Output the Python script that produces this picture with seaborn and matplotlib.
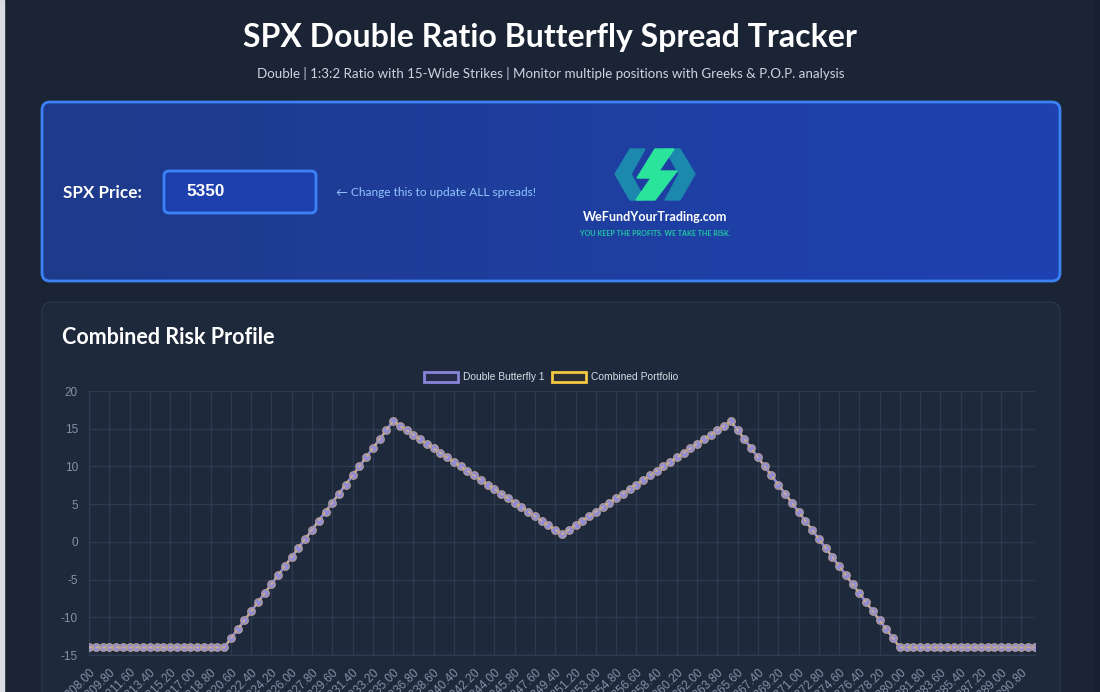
import numpy as np
import pandas as pd
import seaborn as sns
import matplotlib.pyplot as plt
from matplotlib.patches import FancyBboxPatch, Polygon, Rectangle
from matplotlib.colors import LinearSegmentedColormap

# SPX price grid (x categories), 0.6 apart
prices = [
    5308.0, 5308.6, 5309.2, 5309.8, 5310.4, 5311.0, 5311.6, 5312.2, 5312.8, 5313.4,
    5314.0, 5314.6, 5315.2, 5315.8, 5316.4, 5317.0, 5317.6, 5318.2, 5318.8, 5319.4,
    5320.0, 5320.6, 5321.2, 5321.8, 5322.4, 5323.0, 5323.6, 5324.2, 5324.8, 5325.4,
    5326.0, 5326.6, 5327.2, 5327.8, 5328.4, 5329.0, 5329.6, 5330.2, 5330.8, 5331.4,
    5332.0, 5332.6, 5333.2, 5333.8, 5334.4, 5335.0, 5335.6, 5336.2, 5336.8, 5337.4,
    5338.0, 5338.6, 5339.2, 5339.8, 5340.4, 5341.0, 5341.6, 5342.2, 5342.8, 5343.4,
    5344.0, 5344.6, 5345.2, 5345.8, 5346.4, 5347.0, 5347.6, 5348.2, 5348.8, 5349.4,
    5350.0, 5350.6, 5351.2, 5351.8, 5352.4, 5353.0, 5353.6, 5354.2, 5354.8, 5355.4,
    5356.0, 5356.6, 5357.2, 5357.8, 5358.4, 5359.0, 5359.6, 5360.2, 5360.8, 5361.4,
    5362.0, 5362.6, 5363.2, 5363.8, 5364.4, 5365.0, 5365.6, 5366.2, 5366.8, 5367.4,
    5368.0, 5368.6, 5369.2, 5369.8, 5370.4, 5371.0, 5371.6, 5372.2, 5372.8, 5373.4,
    5374.0, 5374.6, 5375.2, 5375.8, 5376.4, 5377.0, 5377.6, 5378.2, 5378.8, 5379.4,
    5380.0, 5380.6, 5381.2, 5381.8, 5382.4, 5383.0, 5383.6, 5384.2, 5384.8, 5385.4,
    5386.0, 5386.6, 5387.2, 5387.8, 5388.4, 5389.0, 5389.6, 5390.2, 5390.8, 5391.4,
    5392.0,
]

# P/L of the position at each price
double_butterfly_1 = [
    -14.0, -14.0, -14.0, -14.0, -14.0, -14.0, -14.0, -14.0, -14.0, -14.0,
    -14.0, -14.0, -14.0, -14.0, -14.0, -14.0, -14.0, -14.0, -14.0, -14.0,
    -14.0, -12.8, -11.6, -10.4, -9.2, -8.0, -6.8, -5.6, -4.4, -3.2,
    -2.0, -0.8, 0.4, 1.6, 2.8, 4.0, 5.2, 6.4, 7.6, 8.8,
    10.0, 11.2, 12.4, 13.6, 14.8, 16.0, 15.4, 14.8, 14.2, 13.6,
    13.0, 12.4, 11.8, 11.2, 10.6, 10.0, 9.4, 8.8, 8.2, 7.6,
    7.0, 6.4, 5.8, 5.2, 4.6, 4.0, 3.4, 2.8, 2.2, 1.6,
    1.0, 1.6, 2.2, 2.8, 3.4, 4.0, 4.6, 5.2, 5.8, 6.4,
    7.0, 7.6, 8.2, 8.8, 9.4, 10.0, 10.6, 11.2, 11.8, 12.4,
    13.0, 13.6, 14.2, 14.8, 15.4, 16.0, 14.8, 13.6, 12.4, 11.2,
    10.0, 8.8, 7.6, 6.4, 5.2, 4.0, 2.8, 1.6, 0.4, -0.8,
    -2.0, -3.2, -4.4, -5.6, -6.8, -8.0, -9.2, -10.4, -11.6, -12.8,
    -14.0, -14.0, -14.0, -14.0, -14.0, -14.0, -14.0, -14.0, -14.0, -14.0,
    -14.0, -14.0, -14.0, -14.0, -14.0, -14.0, -14.0, -14.0, -14.0, -14.0,
    -14.0,
]
# only one position, so the portfolio line sits right on top of it
combined_portfolio = list(double_butterfly_1)

series_names = ["Double Butterfly 1", "Combined Portfolio"]
y_ticks = [-15, -10, -5, 0, 5, 10, 15, 20]

df = pd.DataFrame({"i": range(len(prices)), "price": prices,
                   "fly": double_butterfly_1, "combo": combined_portfolio})

sns.set_theme(style="dark")
plt.rcParams["font.family"] = ["Liberation Sans", "DejaVu Sans"]
plt.rcParams["axes.unicode_minus"] = False

PAGE = "#1b2434"
CARD = "#1e293b"
GRID = "#2d3a4f"

fig = plt.figure(figsize=(11, 6.92), dpi=100, facecolor=PAGE)

# background layer in pixel coordinates
bg = fig.add_axes([0, 0, 1, 1], zorder=0)
bg.set_xlim(0, 1100)
bg.set_ylim(692, 0)
bg.axis("off")
bg.add_patch(Rectangle((0, 0), 4, 692, color="#d8dce3"))
bg.add_patch(Rectangle((1095, 0), 5, 692, color="#172031"))

head_font = ["Lato", "DejaVu Sans"]
bg.text(550, 38, "SPX Double Ratio Butterfly Spread Tracker", ha="center", va="center",
        fontsize=23, fontweight="bold", color="white", family=head_font)
bg.text(551, 73, "Double | 1:3:2 Ratio with 15-Wide Strikes | Monitor multiple positions with Greeks & P.O.P. analysis",
        ha="center", va="center", fontsize=9.65, color="#cbd5e1", family=head_font)

# blue control panel with gradient
panel = FancyBboxPatch((42, 102), 1018, 179, boxstyle="round,pad=0,rounding_size=8",
                       facecolor="none", edgecolor="#3b82f6", linewidth=2, zorder=3)
bg.add_patch(panel)
grad = np.linspace(0, 1, 256).reshape(1, -1)
cmap = LinearSegmentedColormap.from_list("panel", ["#1e3a8a", "#1f42b3"])
im = bg.imshow(grad, extent=(42, 1060, 281, 102), cmap=cmap, aspect="auto", zorder=2)
im.set_clip_path(panel)
bg.set_xlim(0, 1100)
bg.set_ylim(692, 0)

bg.text(63, 193, "SPX Price:", ha="left", va="center", fontsize=12.3, fontweight="bold",
        color="white", family=head_font, zorder=4)
bg.add_patch(FancyBboxPatch((164, 171), 152, 42, boxstyle="round,pad=0,rounding_size=5",
                            facecolor="#1e40af", edgecolor="#3b82f6", linewidth=2, zorder=4))
bg.text(186, 192, "5350", ha="left", va="center", fontsize=12.3, fontweight="bold",
        color="white", zorder=5)
bg.text(336, 193, "\u2190 Change this to update ALL spreads!", ha="left", va="center",
        fontsize=8.6, color="#93c5fd", family=head_font, zorder=4)

# logo
teal = "#1c88ad"
green = "#2be49b"
bg.add_patch(Polygon([(630, 149), (645, 149), (631, 174), (645, 200), (630, 200), (615, 174)],
                     closed=True, color=teal, zorder=4))
bg.add_patch(Polygon([(680, 149), (665, 149), (679, 174), (665, 200), (680, 200), (695, 174)],
                     closed=True, color=teal, zorder=4))
bg.add_patch(Polygon([(655, 149), (674, 149), (659, 171), (677, 171), (655, 200), (636, 200),
                      (651, 178), (637, 178)], closed=True, color=green, zorder=5))
bg.text(655, 217, "WeFundYourTrading.com", ha="center", va="center", fontsize=9,
        fontweight="bold", color="white", family=head_font, zorder=5)
bg.text(655, 233, "YOU KEEP THE PROFITS. WE TAKE THE RISK.", ha="center", va="center",
        fontsize=5.1, fontweight="bold", color="#22c9a3", family=head_font, zorder=5)

# chart card
bg.add_patch(FancyBboxPatch((42, 302), 1018, 420, boxstyle="round,pad=0,rounding_size=10",
                            facecolor=CARD, edgecolor="#2a3548", linewidth=1, zorder=1))
bg.text(62, 338, "Combined Risk Profile", ha="left", va="center", fontsize=15.5,
        fontweight="bold", color="white", family=head_font, zorder=2)

# legend
legend_items = [(424, "#8884d8", "#262c48", series_names[0]),
                (552, "#f5c842", "#2c3034", series_names[1])]
for x0, col, fill, name in legend_items:
    bg.add_patch(Rectangle((x0, 372), 34, 10, facecolor=fill, edgecolor=col,
                           linewidth=2, zorder=3))
    bg.text(x0 + 39, 377.5, name, ha="left", va="center", fontsize=7.4,
            color="#d7dde6", zorder=3)

# chart
ax = fig.add_axes([89 / 1100, (692 - 655) / 692, 946 / 1100, 264 / 692], zorder=2)
ax.set_facecolor("none")
sns.lineplot(data=df, x="i", y="fly", ax=ax, color="#8884d8", linewidth=2, marker="o",
             markersize=5.2, markerfacecolor="#908cda", markeredgecolor="#8884d8",
             markeredgewidth=1, zorder=3)
sns.lineplot(data=df, x="i", y="combo", ax=ax, color=(0.98, 0.8, 0.3, 0.6), linewidth=1.2,
             linestyle=(0, (2, 2)), marker="o", markersize=5.4, markerfacecolor="none",
             markeredgecolor=(0.8, 0.68, 0.4, 0.6), markeredgewidth=0.9, zorder=4)

ax.set_xlim(0, len(prices) - 1)
ax.set_ylim(-15, 20)
ax.set_yticks(y_ticks)
tick_idx = list(range(0, len(prices), 3))
ax.set_xticks(tick_idx)
ax.set_xticklabels([f"{prices[k]:.2f}" for k in tick_idx], rotation=45, ha="right",
                   rotation_mode="anchor")
ax.set_xlabel("")
ax.set_ylabel("")
ax.grid(True, color=GRID, linewidth=1)
ax.tick_params(axis="both", colors=GRID, length=6, width=1, labelcolor="#8592a6",
               labelsize=8.5, pad=2)
for s in ax.spines.values():
    s.set_color(GRID)
    s.set_linewidth(1)
ax.spines["top"].set_visible(False)
ax.spines["right"].set_visible(False)

fig.savefig("out.png", dpi=100, facecolor=PAGE)
